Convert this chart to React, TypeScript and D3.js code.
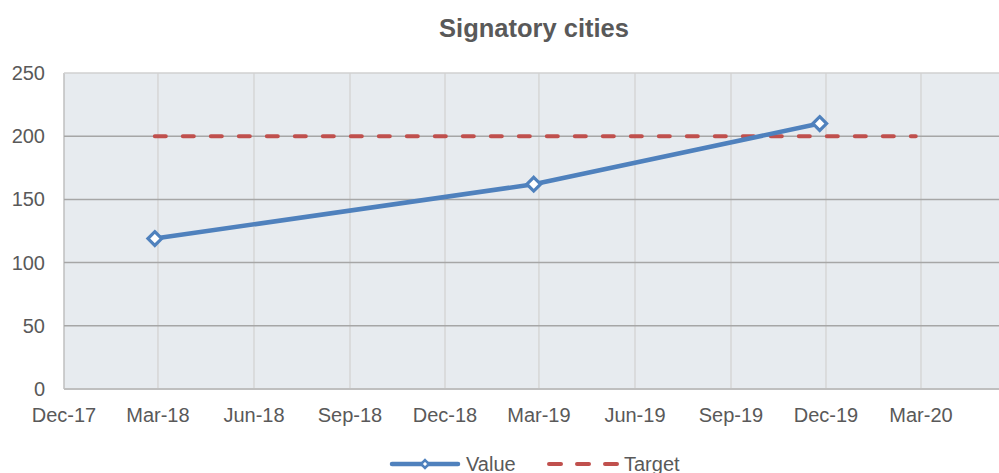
import * as d3 from "d3";
import { useEffect, useRef } from "react";

const valueDates = ["2018-02-26", "2019-02-24", "2019-11-25"];
const valueValues = [119, 162, 210];
const targetDates = ["2018-02-26", "2020-02-25"];
const targetValues = [200, 200];
const yTicks = [0, 50, 100, 150, 200, 250];
const xTickDates = [
  "2017-12-01", "2018-03-01", "2018-06-01", "2018-09-01", "2018-12-01",
  "2019-03-01", "2019-06-01", "2019-09-01", "2019-12-01", "2020-03-01",
];

const parse = d3.timeParse("%Y-%m-%d");

const App = () => {
  const svgRef = useRef<SVGSVGElement>(null);

  const renderSVG = () => {
    const dims = {
      width: 999,
      height: 473,
      margin: { top: 73, left: 64, right: 0, bottom: 84 },
    };
    const innerBottom = dims.height - dims.margin.bottom; // 389

    const xScale = d3
      .scaleTime()
      .domain([parse("2017-12-01")!, parse("2020-06-01")!])
      .range([dims.margin.left, 1017]);
    const yScale = d3.scaleLinear([0, 250], [innerBottom, dims.margin.top]);

    const font = "Liberation Sans, Arial, sans-serif";
    const textColor = "#595959";

    svgRef.current!.innerHTML = "";
    const svg = d3
      .select(svgRef.current)
      .attr("width", dims.width)
      .attr("height", dims.height)
      .attr("viewBox", [0, 0, dims.width, dims.height].join(" "))
      .style("display", "block")
      .style("position", "absolute")
      .style("left", "0px")
      .style("top", "0px");

    svg.append("rect").attr("width", dims.width).attr("height", dims.height).attr("fill", "#ffffff");

    // plot area
    svg
      .append("rect")
      .attr("x", dims.margin.left)
      .attr("y", dims.margin.top)
      .attr("width", dims.width - dims.margin.left)
      .attr("height", innerBottom - dims.margin.top)
      .attr("fill", "#E7EBEF");

    // title
    svg
      .append("text")
      .attr("x", 534)
      .attr("y", 37)
      .attr("text-anchor", "middle")
      .attr("font-family", font)
      .attr("font-weight", "bold")
      .attr("font-size", 25.5)
      .attr("fill", textColor)
      .text("Signatory cities");

    // vertical grid
    svg
      .append("g")
      .selectAll("line")
      .data(xTickDates.map((d) => parse(d)!))
      .enter()
      .append("line")
      .attr("x1", (d) => xScale(d))
      .attr("x2", (d) => xScale(d))
      .attr("y1", dims.margin.top)
      .attr("y2", innerBottom)
      .attr("stroke", (d, i) => (i === 0 ? "#BFBFBF" : "#D6D6D6"))
      .attr("stroke-width", 1.5);

    // horizontal grid
    svg
      .append("g")
      .selectAll("line")
      .data(yTicks.filter((t) => t > 0))
      .enter()
      .append("line")
      .attr("x1", dims.margin.left)
      .attr("x2", dims.width)
      .attr("y1", (d) => yScale(d))
      .attr("y2", (d) => yScale(d))
      .attr("stroke", (d) => (d === 250 ? "#D0D0D0" : "#A6A6A6"))
      .attr("stroke-width", 1.5);

    // x axis line
    svg
      .append("line")
      .attr("x1", dims.margin.left)
      .attr("x2", dims.width)
      .attr("y1", innerBottom)
      .attr("y2", innerBottom)
      .attr("stroke", "#BFBFBF")
      .attr("stroke-width", 2);

    // y labels
    svg
      .append("g")
      .selectAll("text")
      .data(yTicks)
      .enter()
      .append("text")
      .attr("x", 45)
      .attr("y", (d) => yScale(d) + 7)
      .attr("text-anchor", "end")
      .attr("font-family", font)
      .attr("font-size", 20)
      .attr("fill", textColor)
      .text((d) => d);

    // x labels
    const fmt = d3.timeFormat("%b-%y");
    svg
      .append("g")
      .selectAll("text")
      .data(xTickDates.map((d) => parse(d)!))
      .enter()
      .append("text")
      .attr("x", (d) => xScale(d))
      .attr("y", 422)
      .attr("text-anchor", "middle")
      .attr("font-family", font)
      .attr("font-size", 20)
      .attr("fill", textColor)
      .text((d) => fmt(d));

    // target line
    const targetData = targetDates.map((d, i) => ({ date: parse(d)!, value: targetValues[i] }));
    const line = d3
      .line<{ date: Date; value: number }>()
      .x((d) => xScale(d.date))
      .y((d) => yScale(d.value));
    svg
      .append("path")
      .attr("d", line(targetData))
      .attr("fill", "none")
      .attr("stroke", "#C0504D")
      .attr("stroke-width", 4)
      .attr("stroke-dasharray", "11,17")
      .attr("stroke-linecap", "round");

    // value line
    const valueData = valueDates.map((d, i) => ({ date: parse(d)!, value: valueValues[i] }));
    svg
      .append("path")
      .attr("d", line(valueData))
      .attr("fill", "none")
      .attr("stroke", "#4F81BD")
      .attr("stroke-width", 4.5)
      .attr("stroke-linejoin", "round");

    const diamond = d3.symbol().type(d3.symbolDiamond2).size(120);
    svg
      .append("g")
      .selectAll("path")
      .data(valueData)
      .enter()
      .append("path")
      .attr("d", diamond)
      .attr("transform", (d) => `translate(${xScale(d.date)},${yScale(d.value)})`)
      .attr("fill", "#ffffff")
      .attr("stroke", "#4F81BD")
      .attr("stroke-width", 3.2);

    // legend
    const ly = 464;
    const legend = svg.append("g");
    legend
      .append("line")
      .attr("x1", 392)
      .attr("x2", 458)
      .attr("y1", ly)
      .attr("y2", ly)
      .attr("stroke", "#4F81BD")
      .attr("stroke-width", 4.5)
      .attr("stroke-linecap", "round");
    legend
      .append("path")
      .attr("d", d3.symbol().type(d3.symbolDiamond2).size(40))
      .attr("transform", `translate(425,${ly})`)
      .attr("fill", "#ffffff")
      .attr("stroke", "#4F81BD")
      .attr("stroke-width", 2.5);
    legend
      .append("text")
      .attr("x", 466)
      .attr("y", ly + 7)
      .attr("font-family", font)
      .attr("font-size", 20)
      .attr("fill", textColor)
      .text("Value");
    legend
      .append("line")
      .attr("x1", 549)
      .attr("x2", 617)
      .attr("y1", ly)
      .attr("y2", ly)
      .attr("stroke", "#C0504D")
      .attr("stroke-width", 4)
      .attr("stroke-dasharray", "12,16")
      .attr("stroke-linecap", "round");
    legend
      .append("text")
      .attr("x", 624)
      .attr("y", ly + 7)
      .attr("font-family", font)
      .attr("font-size", 20)
      .attr("fill", textColor)
      .text("Target");
  };

  useEffect(() => {
    renderSVG();
  });

  return <svg ref={svgRef} />;
};

export default App;
